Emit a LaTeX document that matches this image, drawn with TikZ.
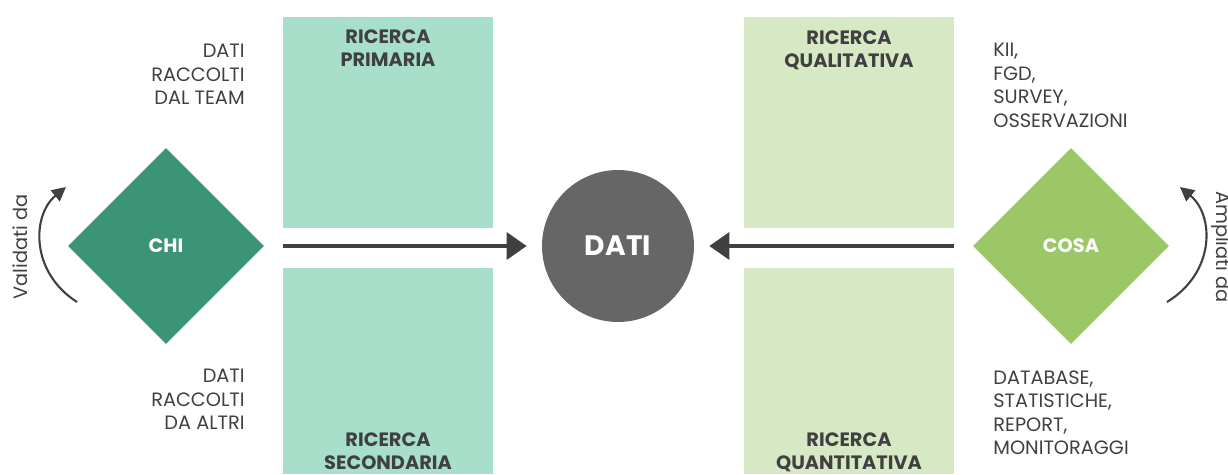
\documentclass[tikz,border=0pt]{standalone}
\usepackage{fontspec}
\setmainfont{Poppins}
\usetikzlibrary{shapes.geometric,arrows.meta}
\definecolor{mintbox}{HTML}{A8DFCA}
\definecolor{leafbox}{HTML}{D7E9C4}
\definecolor{chigreen}{HTML}{3A9475}
\definecolor{cosagreen}{HTML}{9BC766}
\definecolor{datigrey}{HTML}{666666}
\definecolor{inkgrey}{HTML}{404040}
\begin{document}
\begin{tikzpicture}[x=0.02cm,y=-0.02cm,
  every node/.style={font=\fontsize{11}{13.4}\selectfont,text=inkgrey},
  box/.style={inner sep=0pt,minimum width=4.2cm,anchor=north west},
  boxtitle/.style={inner sep=0pt,align=center,anchor=north,font=\fontsize{11}{13.4}\selectfont\bfseries},
  side/.style={inner sep=0pt,align=right,anchor=north east},
  list/.style={inner sep=0pt,align=left,anchor=north west},
  gem/.style={diamond,aspect=1,inner sep=0pt,minimum width=3.92cm,minimum height=3.92cm,text=white,font=\fontsize{11}{12}\selectfont\bfseries},
  bigarrow/.style={-{Triangle[length=0.4cm,width=0.54cm]},line width=2pt,draw=inkgrey,shorten >=0.3cm},
  turn/.style={-{Triangle[length=0.28cm,width=0.28cm]},line width=1.2pt,draw=inkgrey}]
\useasboundingbox (0,0) rectangle (1228,474);
% coloured columns
\node[box,fill=mintbox,minimum height=4.22cm] (primaria) at (283,17) {};
\node[box,fill=mintbox,minimum height=4.12cm] (secondaria) at (283,268) {};
\node[box,fill=leafbox,minimum height=4.22cm] (qualitativa) at (744,17) {};
\node[box,fill=leafbox,minimum height=4.12cm] (quantitativa) at (744,268) {};
% column titles
\node[boxtitle] (tprim) at (388,29) {RICERCA\\PRIMARIA};
\node[boxtitle] (tsec) at (388,432) {RICERCA\\SECONDARIA};
\node[boxtitle] (tqual) at (849,30) {RICERCA\\QUALITATIVA};
\node[boxtitle] (tquant) at (849,432) {RICERCA\\QUANTITATIVA};
% side notes
\node[side] (team) at (245,44) {DATI\\RACCOLTI\\DAL TEAM};
\node[side] (altri) at (245,369) {DATI\\RACCOLTI\\DA ALTRI};
\node[list] (metodi) at (993,43) {KII,\\FGD,\\SURVEY,\\OSSERVAZIONI};
\node[list] (fonti) at (993,370) {DATABASE,\\STATISTICHE,\\REPORT,\\MONITORAGGI};
% centre and diamonds
\node[circle,fill=datigrey,minimum size=3.04cm,inner sep=0pt,text=white,font=\fontsize{16}{18}\selectfont\bfseries] (dati) at (618,246) {DATI};
\node[gem,fill=chigreen] (chi) at (166,246) {CHI};
\node[gem,fill=cosagreen] (cosa) at (1071,246) {COSA};
% arrows into DATI
\coordinate (lstart) at (283,246);
\coordinate (rstart) at (954,246);
\draw[bigarrow] (lstart) -- (dati);
\draw[bigarrow] (rstart) -- (dati);
% turning arrows
\coordinate (vfrom) at (77,302);
\coordinate (vto) at (66,187);
\coordinate (afrom) at (1167,302);
\coordinate (ato) at (1180,187);
\draw[turn] (vfrom) .. controls (30,272) and (32,215) .. (vto);
\draw[turn] (afrom) .. controls (1216,272) and (1214,215) .. (ato);
\node[rotate=90] (validati) at (20,247) {Validati da};
\node[rotate=-90] (ampliati) at (1221,247) {Ampliati da};
\end{tikzpicture}
\end{document}
